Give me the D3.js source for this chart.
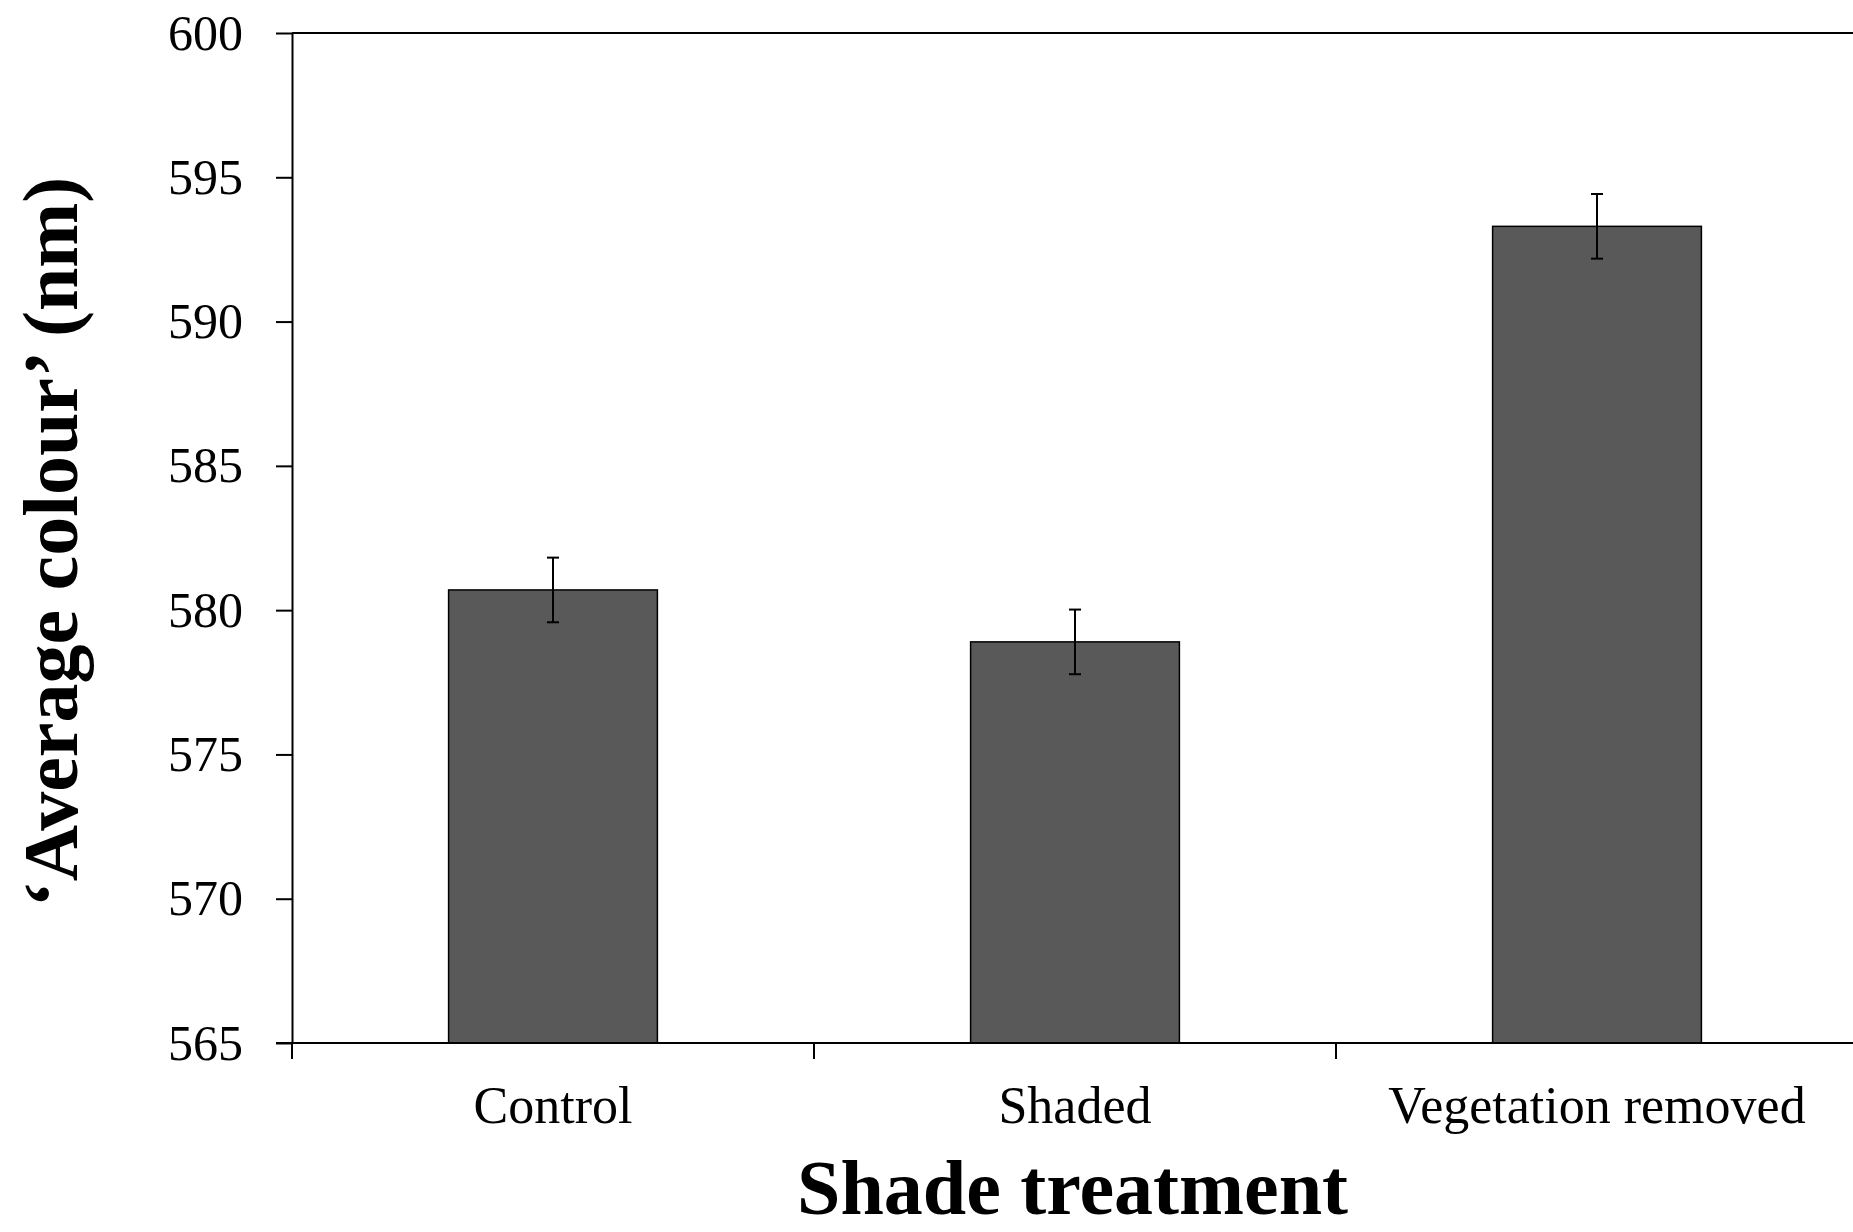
<!DOCTYPE html>
<html>
<head>
<meta charset="utf-8">
<script src="https://cdn.jsdelivr.net/npm/d3@7"></script>
<style>
  body { margin: 0; background: #fff; }
  svg { display: block; font-family: "Liberation Serif", "Times New Roman", serif; }
</style>
</head>
<body>
<div id="chart"></div>
<script>
// chart data
const categories = ["Control", "Shaded", "Vegetation removed"];
const means = [580.7, 578.9, 593.3];
const errors = [1.12, 1.12, 1.12];
const yTicks = [565, 570, 575, 580, 585, 590, 595, 600];

const W = 1853, H = 1232;
const plotLeft = 292, plotTop = 33, plotBottom = 1043;
const band = 522;

const svg = d3.select("#chart").append("svg")
  .attr("width", W)
  .attr("height", H);

const x = d3.scaleBand()
  .domain(categories)
  .range([plotLeft, plotLeft + band * categories.length])
  .padding(0);

const y = d3.scaleLinear()
  .domain([565, 600])
  .range([plotBottom, plotTop]);

const data = categories.map((c, i) => ({ cat: c, mean: means[i], err: errors[i] }));

// bars
const barW = x.bandwidth() * 0.4;
svg.append("g")
  .selectAll("rect")
  .data(data)
  .enter()
  .append("rect")
  .attr("x", d => x(d.cat) + (x.bandwidth() - barW) / 2)
  .attr("y", d => y(d.mean))
  .attr("width", barW)
  .attr("height", d => y(565) - y(d.mean))
  .attr("fill", "#595959")
  .attr("stroke", "#000")
  .attr("stroke-width", 1.5);

// error bars
const eb = svg.append("g").attr("stroke", "#000").attr("stroke-width", 2);
data.forEach(d => {
  const cx = x(d.cat) + x.bandwidth() / 2;
  eb.append("line")
    .attr("x1", cx).attr("x2", cx)
    .attr("y1", y(d.mean + d.err)).attr("y2", y(d.mean - d.err));
  [d.mean + d.err, d.mean - d.err].forEach(v => {
    eb.append("line")
      .attr("x1", cx - 6).attr("x2", cx + 6)
      .attr("y1", y(v)).attr("y2", y(v));
  });
});

// top frame line
svg.append("line")
  .attr("x1", plotLeft).attr("x2", W)
  .attr("y1", y(600)).attr("y2", y(600))
  .attr("stroke", "#000").attr("stroke-width", 2);

// y axis
const yAxis = svg.append("g")
  .attr("transform", `translate(${plotLeft},0)`)
  .call(d3.axisLeft(y).tickValues(yTicks).tickFormat(d3.format("d"))
    .tickSize(16).tickSizeOuter(0).tickPadding(33));
yAxis.select(".domain").attr("stroke-width", 2);
yAxis.selectAll(".tick line").attr("stroke-width", 2);
yAxis.selectAll("text")
  .attr("font-family", "Liberation Serif")
  .attr("font-size", 50)
  .attr("fill", "#000");

// x axis line
svg.append("line")
  .attr("x1", plotLeft - 16).attr("x2", W)
  .attr("y1", plotBottom).attr("y2", plotBottom)
  .attr("stroke", "#000").attr("stroke-width", 2);

// x ticks at band boundaries
svg.append("g")
  .selectAll("line")
  .data(categories)
  .enter()
  .append("line")
  .attr("x1", d => x(d)).attr("x2", d => x(d))
  .attr("y1", plotBottom).attr("y2", plotBottom + 16)
  .attr("stroke", "#000").attr("stroke-width", 2);

// x labels
svg.append("g")
  .selectAll("text")
  .data(categories)
  .enter()
  .append("text")
  .attr("x", d => x(d) + x.bandwidth() / 2)
  .attr("y", 1123)
  .attr("text-anchor", "middle")
  .attr("font-size", 52)
  .text(d => d);

// axis titles
svg.append("text")
  .attr("x", (plotLeft + W) / 2)
  .attr("y", 1214)
  .attr("text-anchor", "middle")
  .attr("font-size", 78)
  .attr("font-weight", "bold")
  .text("Shade treatment");

svg.append("text")
  .attr("transform", `translate(77,${(plotTop + plotBottom) / 2 + 4}) rotate(-90)`)
  .attr("text-anchor", "middle")
  .attr("font-size", 78)
  .attr("font-weight", "bold")
  .text("\u2018Average colour\u2019 (nm)");
</script>
</body>
</html>
